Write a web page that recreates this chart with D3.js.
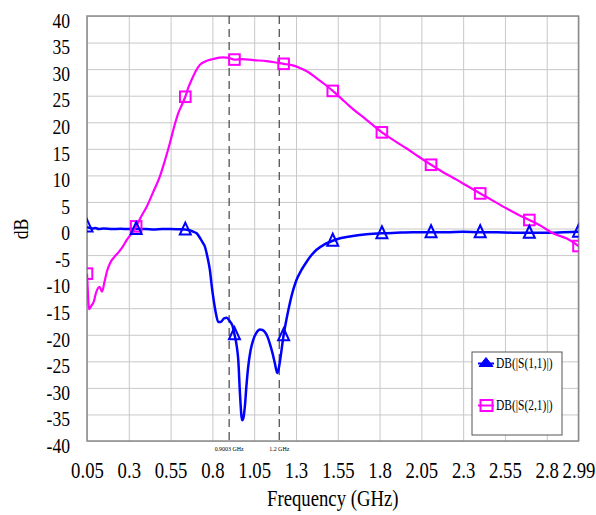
<!DOCTYPE html>
<html>
<head>
<meta charset="utf-8">
<script src="https://cdn.jsdelivr.net/npm/d3@7/dist/d3.min.js"></script>
<style>
  html, body { margin: 0; padding: 0; background: #fff; }
  svg { display: block; }
  text { font-family: "Liberation Serif", "Times New Roman", serif; fill: #000; }
</style>
</head>
<body>
<svg id="chart" width="596" height="515"></svg>
<script>
// Frequency axis ticks (GHz) and their labels
const freqTicks = [0.05, 0.3, 0.55, 0.8, 1.05, 1.3, 1.55, 1.8, 2.05, 2.3, 2.55, 2.8, 2.99];
const freqTickLabels = ["0.05", "0.3", "0.55", "0.8", "1.05", "1.3", "1.55", "1.8", "2.05", "2.3", "2.55", "2.8", "2.99"];
// dB axis ticks
const dbTicks = [-40, -35, -30, -25, -20, -15, -10, -5, 0, 5, 10, 15, 20, 25, 30, 35, 40];
const dbTickLabels = ["-40", "-35", "-30", "-25", "-20", "-15", "-10", "-5", "0", "5", "10", "15", "20", "25", "30", "35", "40"];

// Frequencies that carry a marker symbol
const markerFreqs = [0.05, 0.344, 0.638, 0.932, 1.226, 1.52, 1.814, 2.108, 2.402, 2.696, 2.99];

// Marker frequencies (GHz) shown as dashed lines
const markerLineFreqs = [0.9003, 1.2];
const markerLineLabels = ["0.9003 GHz", "1.2 GHz"];

// DB(|S(1,1)|) sweep
const s11Freq = [0.05, 0.053, 0.07, 0.085, 0.1, 0.12, 0.15, 0.2, 0.25, 0.3, 0.344, 0.4, 0.45, 0.5, 0.55, 0.6,
  0.638, 0.665, 0.685, 0.706, 0.73, 0.745, 0.755, 0.77, 0.785, 0.795, 0.805, 0.82, 0.835, 0.85, 0.87, 0.885,
  0.905, 0.92, 0.932, 0.945, 0.955, 0.965, 0.978, 0.986, 0.994, 1.004, 1.014, 1.028, 1.044, 1.064, 1.084, 1.1,
  1.114, 1.13, 1.144, 1.16, 1.174, 1.188, 1.196, 1.205, 1.226, 1.245, 1.263, 1.283, 1.303, 1.333, 1.363, 1.393,
  1.423, 1.47, 1.52, 1.57, 1.622, 1.722, 1.814, 1.9, 2.0, 2.108, 2.2, 2.3, 2.402, 2.5, 2.6, 2.696, 2.8, 2.9, 2.99];
const s11Db = [0.4, 0.2, 0.1, 0.0, 0.1, -0.1, 0.0, -0.1, -0.05, -0.1, -0.1, -0.1, -0.2, -0.1, -0.1, -0.15,
  -0.2, -0.3, -0.6, -0.9, -2.0, -2.8, -3.4, -5.3, -7.8, -10.5, -12.9, -15.8, -17.6, -17.6, -16.9, -16.8,
  -17.5, -18.3, -19.9, -22.0, -24.8, -31.1, -36.1, -35.6, -33.6, -29.5, -26.1, -23.0, -21.0, -19.6, -19.0, -19.1,
  -19.5, -20.4, -21.7, -23.5, -25.4, -27.2, -26.5, -24.8, -20.1, -16.8, -14.1, -11.6, -9.7, -7.8, -6.3, -5.0,
  -4.0, -3.0, -2.3, -1.8, -1.5, -1.1, -0.9, -0.8, -0.7, -0.7, -0.7, -0.6, -0.7, -0.7, -0.8, -0.8, -0.8, -0.7, -0.6];

// DB(|S(2,1)|) sweep
const s21Freq = [0.05, 0.056, 0.062, 0.075, 0.09, 0.105, 0.125, 0.14, 0.155, 0.17, 0.19, 0.215, 0.235, 0.26,
  0.287, 0.315, 0.344, 0.375, 0.407, 0.445, 0.486, 0.516, 0.546, 0.57, 0.596, 0.618, 0.638, 0.656, 0.676, 0.7,
  0.725, 0.76, 0.805, 0.865, 0.9, 0.932, 0.98, 1.044, 1.124, 1.17, 1.226, 1.28, 1.324, 1.37, 1.423, 1.47, 1.52,
  1.57, 1.622, 1.72, 1.814, 1.89, 1.96, 2.03, 2.108, 2.18, 2.26, 2.33, 2.402, 2.48, 2.558, 2.63, 2.696, 2.77,
  2.837, 2.92, 2.99];
const s21Db = [-8.5, -12.5, -15.2, -14.6, -13.8, -12.0, -11.0, -11.9, -10.0, -8.0, -6.4, -5.3, -4.6, -3.6,
  -2.2, -1.0, 0.4, 2.3, 4.1, 6.8, 9.8, 12.8, 16.1, 19.0, 21.7, 23.3, 24.8, 26.5, 28.0, 29.6,
  30.8, 31.5, 31.9, 32.2, 32.1, 31.8, 31.9, 31.7, 31.5, 31.3, 31.0, 30.7, 30.2, 29.5, 28.3, 27.2, 25.9,
  24.5, 23.0, 20.5, 18.1, 16.5, 15.1, 13.6, 12.0, 10.6, 9.2, 7.9, 6.6, 5.2, 3.8, 2.6, 1.6, 0.4,
  -0.9, -1.9, -3.3];

const seriesNames = ["DB(|S(1,1)|)", "DB(|S(2,1)|)"];
const seriesColors = ["#0000ff", "#ff00ff"];

const svg = d3.select("#chart");
const plot = { left: 87, right: 578.5, top: 16, bottom: 441 };
const textScaleX = 0.78;

const x = d3.scaleLinear().domain([0.05, 2.99]).range([plot.left, plot.right]);
const y = d3.scaleLinear().domain([-40, 40]).range([plot.bottom, plot.top]);

svg.append("rect").attr("width", 596).attr("height", 515).attr("fill", "#fff");

svg.append("defs").append("clipPath").attr("id", "plotClip")
  .append("rect")
  .attr("x", plot.left).attr("y", plot.top)
  .attr("width", plot.right - plot.left).attr("height", plot.bottom - plot.top);

// Grid lines
const grid = svg.append("g").attr("class", "grid");
grid.append("g")
  .attr("transform", `translate(0,${plot.bottom})`)
  .call(d3.axisBottom(x).tickValues(freqTicks).tickSize(-(plot.bottom - plot.top)).tickFormat(""))
  .call(g => g.select(".domain").remove())
  .call(g => g.selectAll("line").attr("stroke", "#c8c8c8").attr("stroke-width", 1));
grid.append("g")
  .attr("transform", `translate(${plot.left},0)`)
  .call(d3.axisLeft(y).tickValues(dbTicks).tickSize(-(plot.right - plot.left)).tickFormat(""))
  .call(g => g.select(".domain").remove())
  .call(g => g.selectAll("line").attr("stroke", "#c8c8c8").attr("stroke-width", 1));

// Plot frame
svg.append("rect")
  .attr("x", plot.left).attr("y", plot.top)
  .attr("width", plot.right - plot.left).attr("height", plot.bottom - plot.top)
  .attr("fill", "none").attr("stroke", "#8a8a8a").attr("stroke-width", 1.5);

// Dashed frequency markers
markerLineFreqs.forEach((f, i) => {
  svg.append("line")
    .attr("x1", x(f)).attr("x2", x(f))
    .attr("y1", plot.top).attr("y2", plot.bottom)
    .attr("stroke", "#444").attr("stroke-width", 1.2)
    .attr("stroke-dasharray", "8,5");
  svg.append("text")
    .attr("transform", `translate(${x(f)},${plot.bottom + 9.5}) scale(0.85,1)`)
    .attr("text-anchor", "middle")
    .style("font-size", "7px")
    .text(markerLineLabels[i]);
});

// X axis labels
const xAxis = svg.append("g")
  .attr("transform", `translate(0,${plot.bottom})`)
  .call(d3.axisBottom(x).tickValues(freqTicks).tickSize(0).tickPadding(0)
    .tickFormat((d, i) => freqTickLabels[i]));
xAxis.select(".domain").remove();
xAxis.selectAll("text")
  .attr("y", 37).attr("dy", null)
  .attr("transform", `scale(${textScaleX},1)`)
  .style("font-size", "24px");

// Y axis labels
const yAxis = svg.append("g")
  .attr("transform", `translate(${plot.left},0)`)
  .call(d3.axisLeft(y).tickValues(dbTicks).tickSize(0).tickPadding(0)
    .tickFormat((d, i) => dbTickLabels[i]));
yAxis.select(".domain").remove();
yAxis.selectAll("text")
  .attr("x", -17 / 0.8).attr("dy", "0.42em").attr("y", 2)
  .attr("transform", "scale(0.8,1)")
  .style("font-size", "22px");

// Axis titles
svg.append("text")
  .attr("transform", `translate(${(plot.left + plot.right) / 2},505.5) scale(${textScaleX},1)`)
  .attr("text-anchor", "middle")
  .style("font-size", "24px")
  .text("Frequency (GHz)");
svg.append("text")
  .attr("transform", `translate(28,229) rotate(-90) scale(0.8,1)`)
  .attr("text-anchor", "middle")
  .style("font-size", "22px")
  .text("dB");

// Traces
const s11 = s11Freq.map((f, i) => ({ f, v: s11Db[i] }));
const s21 = s21Freq.map((f, i) => ({ f, v: s21Db[i] }));
const line = d3.line().x(d => x(d.f)).y(d => y(d.v)).curve(d3.curveMonotoneX);

const traces = svg.append("g").attr("clip-path", "url(#plotClip)");
traces.append("path").datum(s11)
  .attr("d", line).attr("fill", "none")
  .attr("stroke", seriesColors[0]).attr("stroke-width", 2.5).attr("stroke-linejoin", "round");
traces.append("path").datum(s21)
  .attr("d", line).attr("fill", "none")
  .attr("stroke", seriesColors[1]).attr("stroke-width", 2.2).attr("stroke-linejoin", "round");

const isMarker = d => markerFreqs.some(m => Math.abs(m - d.f) < 1e-9);
const trianglePath = "M0,-7L5.5,5L-5.5,5Z";

traces.selectAll("rect.s21m").data(s21.filter(isMarker)).join("rect")
  .attr("class", "s21m")
  .attr("x", d => x(d.f) - 5.3).attr("y", d => y(d.v) - 5.3)
  .attr("width", 10.6).attr("height", 10.6)
  .attr("fill", "none").attr("stroke", seriesColors[1]).attr("stroke-width", 2);

traces.selectAll("path.s11m").data(s11.filter(isMarker)).join("path")
  .attr("class", "s11m")
  .attr("transform", d => `translate(${x(d.f)},${y(d.v)})`)
  .attr("d", trianglePath)
  .attr("fill", "none").attr("stroke", seriesColors[0]).attr("stroke-width", 2);

// Legend
const legend = svg.append("g");
legend.append("rect")
  .attr("x", 472).attr("y", 352).attr("width", 90).attr("height", 83)
  .attr("fill", "#fff").attr("stroke", "#555").attr("stroke-width", 1);
const legendRows = [363.5, 405.5];
seriesNames.forEach((name, i) => {
  const ly = legendRows[i];
  legend.append("line")
    .attr("x1", 478).attr("x2", 494).attr("y1", ly).attr("y2", ly)
    .attr("stroke", seriesColors[i]).attr("stroke-width", 2);
  if (i === 0) {
    legend.append("path")
      .attr("transform", `translate(486,${ly})`)
      .attr("d", "M0,-6L7,3L-7,3Z")
      .attr("fill", seriesColors[i]).attr("stroke", seriesColors[i]).attr("stroke-width", 1);
  } else {
    legend.append("rect")
      .attr("x", 480.5).attr("y", ly - 5.5).attr("width", 12).attr("height", 11)
      .attr("fill", "none").attr("stroke", seriesColors[i]).attr("stroke-width", 2);
  }
  legend.append("text")
    .attr("transform", `translate(496,${ly + 4.5}) scale(0.82,1)`)
    .style("font-size", "14px")
    .text(name);
});
</script>
</body>
</html>
